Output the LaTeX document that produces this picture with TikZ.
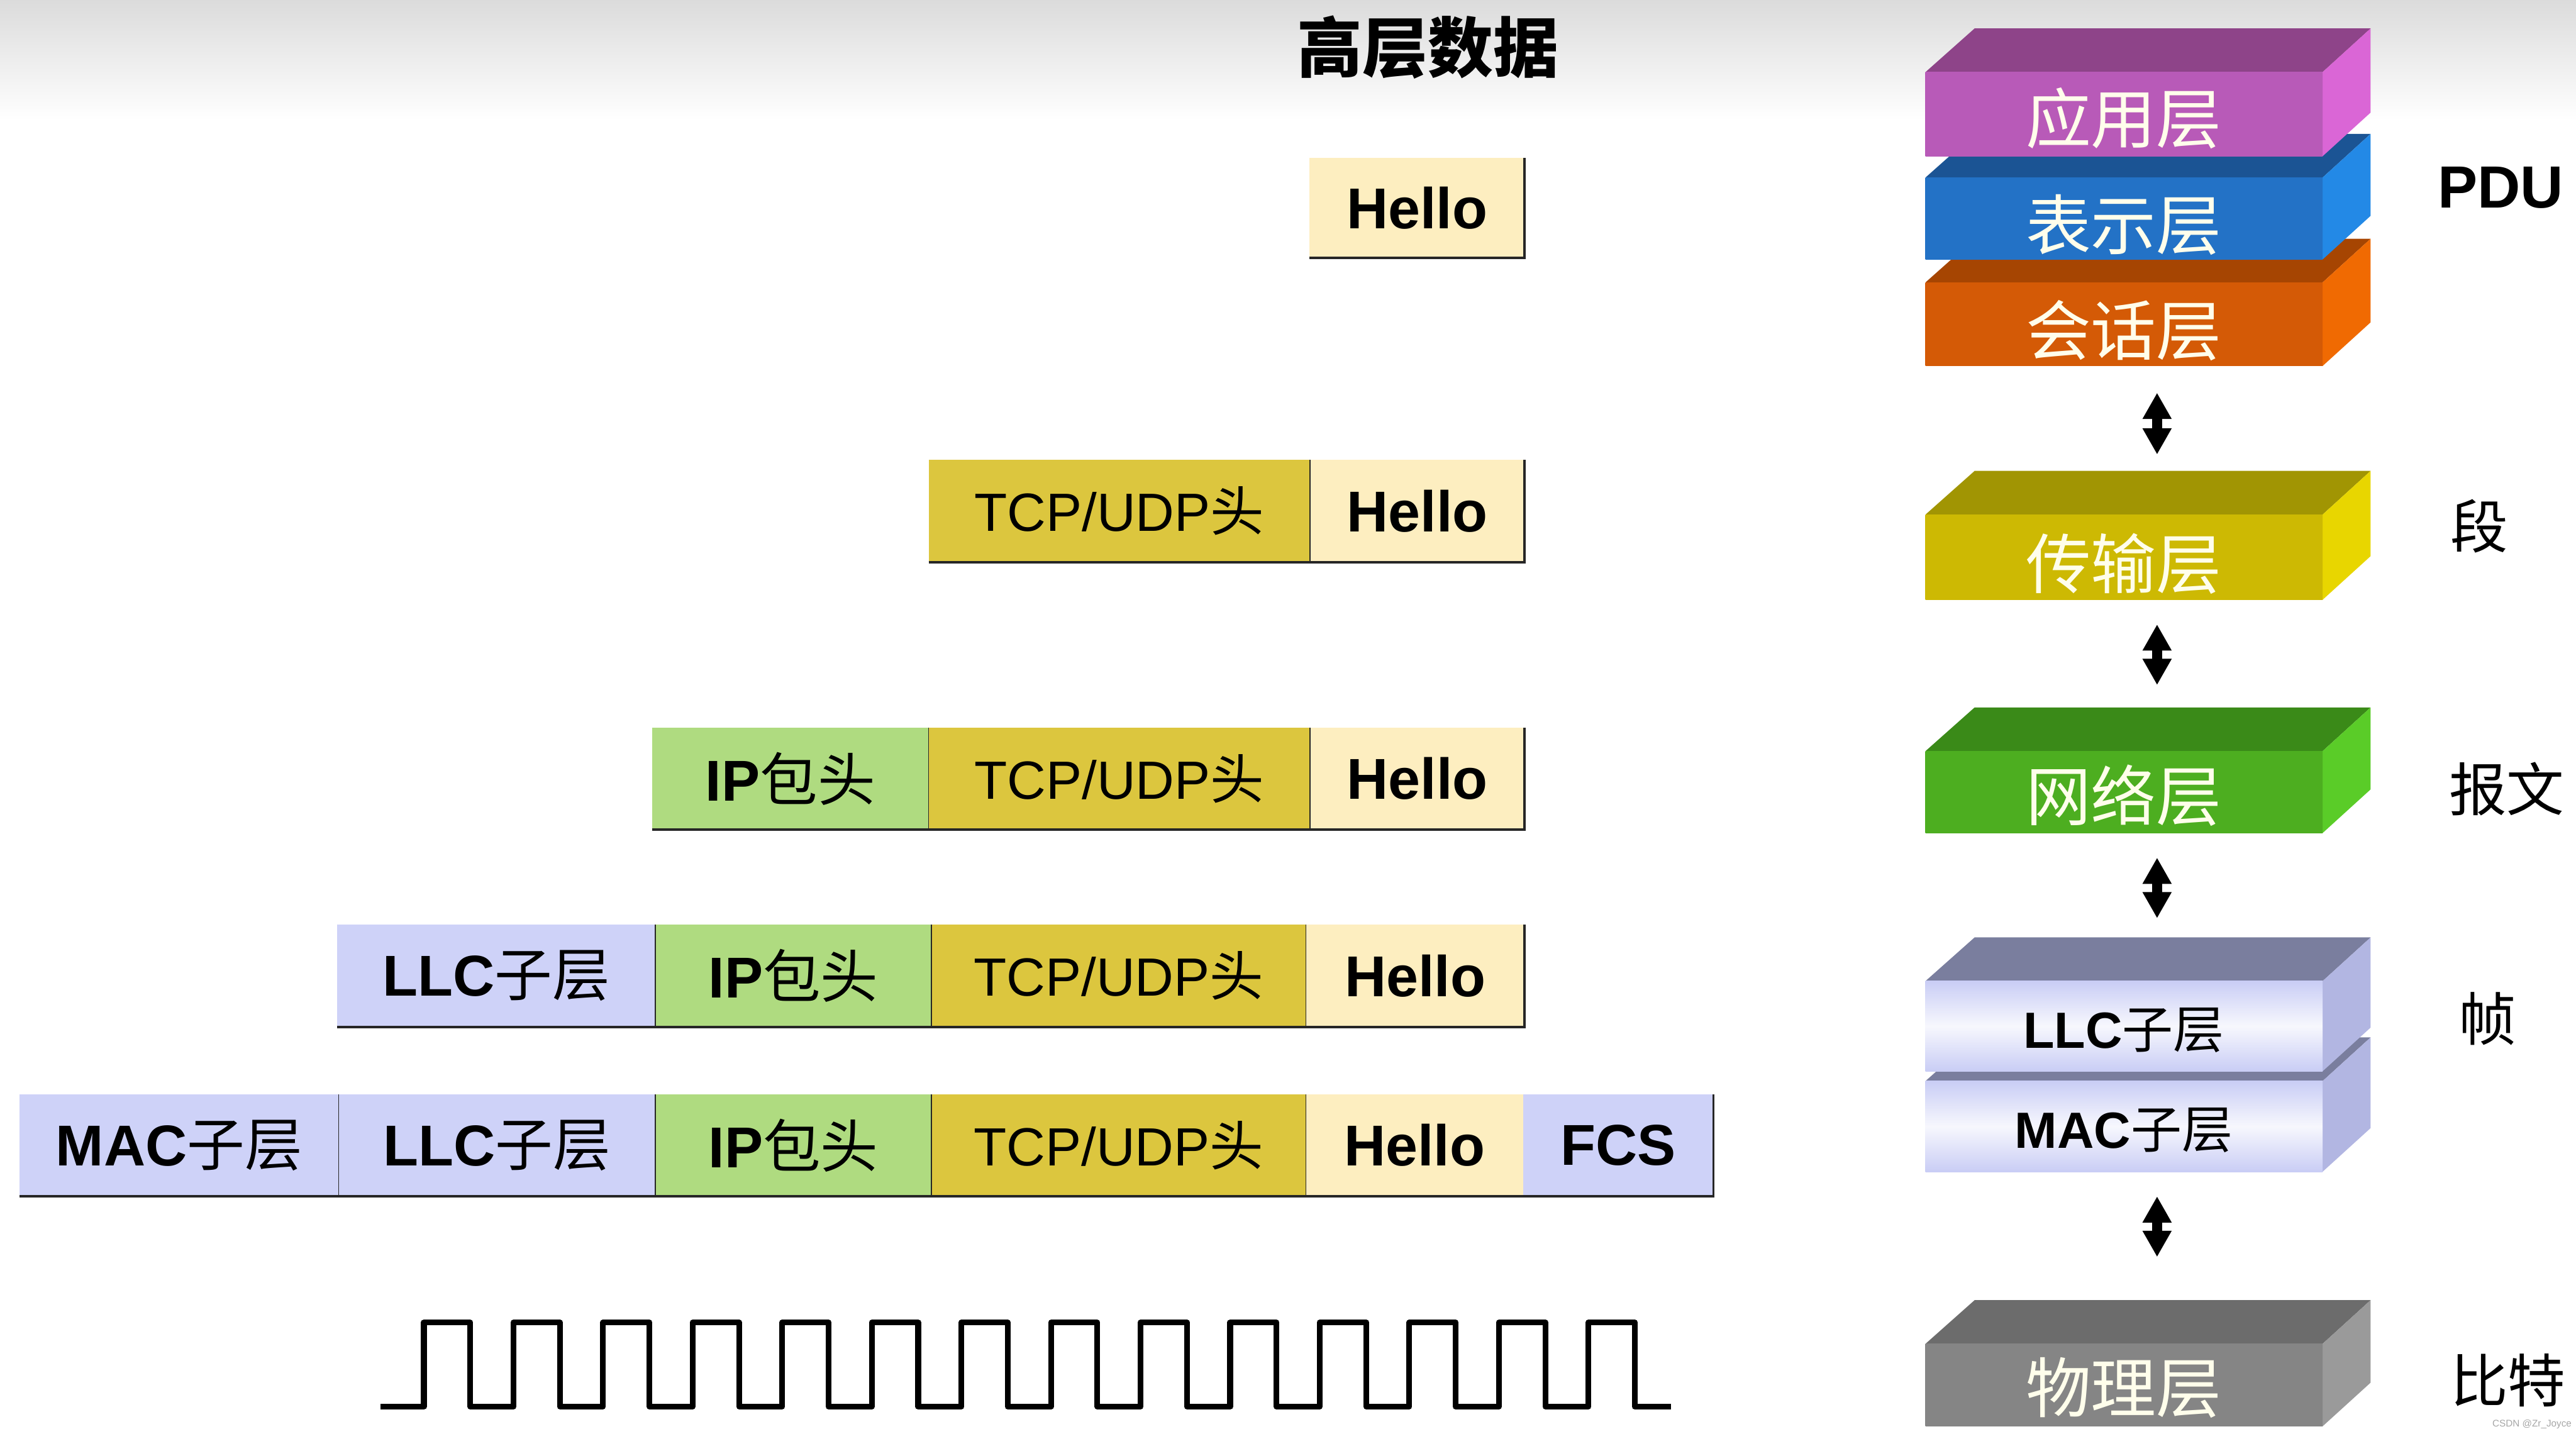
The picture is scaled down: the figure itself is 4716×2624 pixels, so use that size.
\documentclass[tikz,border=0pt]{standalone}
\usepackage{fontspec}
\setmainfont{Liberation Sans}
\newfontfamily\cjk{Noto Sans CJK SC}
\usetikzlibrary{arrows.meta}

% colours of the layer blocks: F front, T top, S side, M middle of front
\definecolor{appF}{HTML}{B85AB8}\definecolor{appT}{HTML}{8E4489}\definecolor{appS}{HTML}{DA66D6}
\definecolor{preF}{HTML}{2372C6}\definecolor{preT}{HTML}{1B5494}\definecolor{preS}{HTML}{2389E6}
\definecolor{sesF}{HTML}{D45A06}\definecolor{sesT}{HTML}{A64502}\definecolor{sesS}{HTML}{F06A02}
\definecolor{traF}{HTML}{CDB903}\definecolor{traT}{HTML}{A19503}\definecolor{traS}{HTML}{E8D600}
\definecolor{netF}{HTML}{4DAE20}\definecolor{netT}{HTML}{3A8A18}\definecolor{netS}{HTML}{5ACC28}
\definecolor{dlF}{HTML}{C9CDF5}\definecolor{dlT}{HTML}{7A7E9E}\definecolor{dlS}{HTML}{B2B6E2}
\definecolor{phyF}{HTML}{858585}\definecolor{phyT}{HTML}{6C6C6C}\definecolor{phyS}{HTML}{9A9A9A}
\colorlet{appM}{appF}\colorlet{preM}{preF}\colorlet{sesM}{sesF}\colorlet{traM}{traF}
\colorlet{netM}{netF}\colorlet{phyM}{phyF}\colorlet{dlM}{white!85!dlF}
% packet cells
\definecolor{helloC}{HTML}{FDEEC0}
\definecolor{tcpC}{HTML}{DCC63E}
\definecolor{ipC}{HTML}{AFDB80}
\definecolor{llcC}{HTML}{CED2F8}

\newcommand{\fsz}[1]{\fontsize{#1pt}{#1pt}\selectfont}

% 3D block: top of front, bottom of front, colour prefix
\newcommand{\layerbox}[3]{%
  \fill[#3T] (3525,#1) -- (3615,#1-80) -- (4340,#1-80) -- (4252,#1) -- cycle;
  \fill[#3S] (4252,#1) -- (4340,#1-80) -- (4340,#2-80) -- (4252,#2) -- cycle;
  \shade[top color=#3F, bottom color=#3F, middle color=#3M] (3525,#1) rectangle (4252,#2);
}

% packet cell: x1, x2, y1, y2, colour, name, text
\newcommand{\pktcell}[7]{%
  \fill[#5] (#1,#3) rectangle (#2,#4);
  \node[pkttext] (#6) at ({(#1+#2)/2},{(#3+#4)/2}) {#7};
}

\begin{document}
\begin{tikzpicture}[x=0.01cm,y=-0.01cm,
  sep/.style={black!85, line width=0.5pt},
  edge/.style={black!85, line width=1.2pt},
  pkttext/.style={font=\fsz{30}, inner sep=0pt},
  layertext/.style={font={\cjk\fsz{34}}, text=white!92!yellow, inner sep=0pt},
  pdutext/.style={font={\cjk\fsz{30}}, anchor=west, inner sep=0pt},
  updown/.style={{Triangle[length=0.48cm,width=0.5cm]}-{Triangle[length=0.48cm,width=0.5cm]}, line width=0.18cm},
  wave/.style={line width=3pt, line join=round}]
\useasboundingbox (0,0) rectangle (4716,2624);
\shade[top color=black!14, bottom color=white] (0,0) rectangle (4716,220);

\node[font={\cjk\bfseries\fsz{34}}] (title) at (2614,87) {高层数据};

% packets, one row per layer
\pktcell{2397}{2791}{289}{472}{helloC}{h1}{\bfseries Hello}
\draw[edge] (2397,472) -- (2791,472) -- (2791,289);

\pktcell{1700}{2398}{842}{1029}{tcpC}{t2}{\fsz{28}TCP/UDP{\cjk 头}}
\pktcell{2398}{2791}{842}{1029}{helloC}{h2}{\bfseries Hello}
\draw[sep] (2398,842) -- (2398,1029);
\draw[edge] (1700,1029) -- (2791,1029) -- (2791,842);

\pktcell{1194}{1700}{1332}{1519}{ipC}{i3}{\bfseries IP{\mdseries\cjk 包头}}
\pktcell{1700}{2398}{1332}{1519}{tcpC}{t3}{\fsz{28}TCP/UDP{\cjk 头}}
\pktcell{2398}{2791}{1332}{1519}{helloC}{h3}{\bfseries Hello}
\foreach \x in {1700,2398} \draw[sep] (\x,1332) -- (\x,1519);
\draw[edge] (1194,1519) -- (2791,1519) -- (2791,1332);

\pktcell{617}{1200}{1693}{1880}{llcC}{l4}{\bfseries LLC{\mdseries\cjk 子层}}
\pktcell{1200}{1705}{1693}{1880}{ipC}{i4}{\bfseries IP{\mdseries\cjk 包头}}
\pktcell{1705}{2391}{1693}{1880}{tcpC}{t4}{\fsz{28}TCP/UDP{\cjk 头}}
\pktcell{2391}{2791}{1693}{1880}{helloC}{h4}{\bfseries Hello}
\foreach \x in {1200,1705,2391} \draw[sep] (\x,1693) -- (\x,1880);
\draw[edge] (617,1880) -- (2791,1880) -- (2791,1693);

\pktcell{36}{620}{2003}{2190}{llcC}{m5}{\bfseries MAC{\mdseries\cjk 子层}}
\pktcell{620}{1200}{2003}{2190}{llcC}{l5}{\bfseries LLC{\mdseries\cjk 子层}}
\pktcell{1200}{1705}{2003}{2190}{ipC}{i5}{\bfseries IP{\mdseries\cjk 包头}}
\pktcell{1705}{2391}{2003}{2190}{tcpC}{t5}{\fsz{28}TCP/UDP{\cjk 头}}
\pktcell{2391}{2788}{2003}{2190}{helloC}{h5}{\bfseries Hello}
\pktcell{2788}{3137}{2003}{2190}{llcC}{f5}{\bfseries FCS}
\foreach \x in {620,1200,1705,2391} \draw[sep] (\x,2003) -- (\x,2190);
\draw[edge] (36,2190) -- (3137,2190) -- (3137,2003);

% bits on the wire
\draw[wave] (697,2575) \foreach \k in {0,...,13}{ -- ({776+164*\k},2575) -- ({776+164*\k},2421) -- ({861+164*\k},2421) -- ({861+164*\k},2575)} -- (3059,2575);

% layer stack
\layerbox{517}{670}{ses}
\layerbox{325}{475}{pre}
\layerbox{132}{286}{app}
\layerbox{942}{1098}{tra}
\layerbox{1375}{1525}{net}
\layerbox{1979}{2145}{dl}
\layerbox{1796}{1961}{dl}
\layerbox{2460}{2611}{phy}

\node[layertext] (app) at (3888,217) {应用层};
\node[layertext] (pre) at (3888,412) {表示层};
\node[layertext] (ses) at (3888,605) {会话层};
\node[layertext] (tra) at (3888,1032) {传输层};
\node[layertext] (net) at (3888,1456) {网络层};
\node[pkttext, font=\fsz{26.5}] (llc) at (3888,1886) {\bfseries LLC{\mdseries\cjk 子层}};
\node[pkttext, font=\fsz{26.5}] (mac) at (3888,2069) {\bfseries MAC{\mdseries\cjk 子层}};
\node[layertext] (phy) at (3888,2541) {物理层};

% arrows between the blocks
\foreach \ya/\yb [count=\i] in {719/832,1143/1254,1570/1681,2190/2301} {
  \coordinate (up\i) at (3949,\ya);
  \coordinate (dn\i) at (3949,\yb);
  \draw[updown] (up\i) -- (dn\i);
}

% PDU names
\node[font=\bfseries\fsz{31}, anchor=west, inner sep=0pt] (pdu) at (4462,343) {PDU};
\node[pdutext] (seg) at (4485,963) {段};
\node[pdutext] (pkt) at (4483,1444) {报文};
\node[pdutext] (frm) at (4500,1865) {帧};
\node[pdutext] (bit) at (4485,2527) {比特};

\node[font=\fsz{5}, text=gray!70, anchor=south east, inner sep=1pt] (mark) at (4712,2620) {CSDN @Zr\_Joyce};
\end{tikzpicture}
\end{document}
